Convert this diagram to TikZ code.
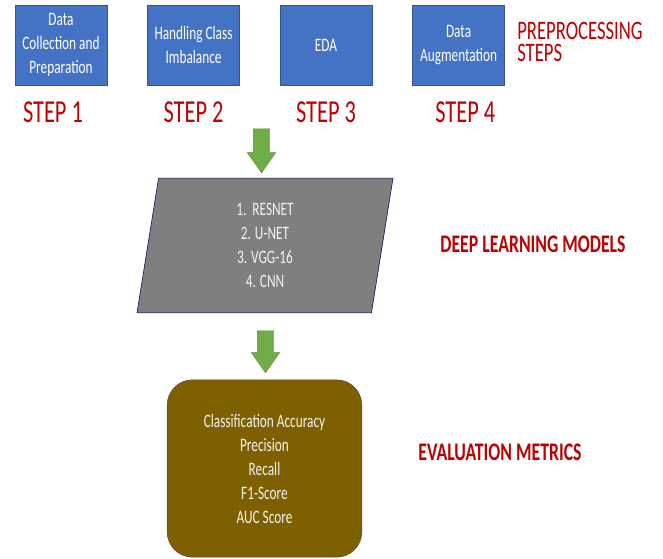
\documentclass[tikz,border=0pt]{standalone}
\usepackage{fontspec}
\setmainfont{Carlito}[FakeStretch=0.7]
\usetikzlibrary{positioning,shapes.geometric,shapes.arrows}
\definecolor{stepblue}{HTML}{4472C4}
\definecolor{stepred}{HTML}{C00000}
\definecolor{arrowgreen}{HTML}{70AD47}
\definecolor{modelgray}{HTML}{7F7F7F}
\definecolor{metricbrown}{HTML}{7F6000}
\tikzset{stepbox/.style={draw=stepblue!75!black,fill=stepblue,text=white,align=center,minimum width=69pt,minimum height=60pt,inner sep=1pt,font=\fontsize{14.25}{18}\selectfont},
steplbl/.style={text=stepred,inner sep=0pt,font=\fontsize{24}{28}\selectfont},
heading/.style={text=stepred,inner sep=0pt,font=\bfseries\fontsize{19}{20}\selectfont},
downarrow/.style={single arrow,draw=arrowgreen!80!black,line width=0.3pt,fill=arrowgreen,shape border rotate=270,inner sep=6pt,single arrow head extend=4.5pt,single arrow tip angle=70},
listtext/.style={text=white!95!black,align=center,font=\fontsize{14.25}{18}\selectfont}}
\begin{document}
\begin{tikzpicture}[x=0.75pt,y=-0.75pt]
\useasboundingbox (0,0) rectangle (663,558);
% preprocessing row
\node[stepbox] (b1) at (61,45) {Data\\Collection and\\Preparation};
\node[stepbox,right=30pt of b1] (b2) {Handling Class\\Imbalance};
\node[stepbox,right=30pt of b2] (b3) {EDA};
\node[stepbox,right=30pt of b3] (b4) {Data\\Augmentation};
\node[heading,font=\fontsize{20}{17}\selectfont,align=left,anchor=west] (pre) at (517,42) {PREPROCESSING\\STEPS};
\node[steplbl,below=12pt of b1,xshift=-6pt] (s1) {STEP 1};
\node[steplbl,below=12pt of b2] (s2) {STEP 2};
\node[steplbl,below=12pt of b3] (s3) {STEP 3};
\node[steplbl,below=12pt of b4,xshift=5pt] (s4) {STEP 4};
% models
\node[downarrow,minimum height=33pt] (a1) at (261.5,145) {};
\node[trapezium,trapezium left angle=77,trapezium right angle=103,trapezium stretches body,draw=blue!30!black,fill=modelgray,minimum width=192pt,minimum height=101pt,listtext] (dl) at (265,245.5) {1.~~RESNET\\2. U-NET\\3. VGG-16\\4. CNN};
\node[heading] (dlh) at (533,244) {DEEP LEARNING MODELS};
% metrics
\node[downarrow,minimum height=31.5pt] (a2) at (265.5,346) {};
\node[draw=black!70,fill=metricbrown,rounded corners=19pt,minimum width=146pt,minimum height=133pt,listtext] (ev) at (264.5,468.5) {Classification Accuracy\\Precision\\Recall\\F1-Score\\AUC Score};
\node[heading] (evh) at (500,452) {EVALUATION METRICS};
\end{tikzpicture}
\end{document}
